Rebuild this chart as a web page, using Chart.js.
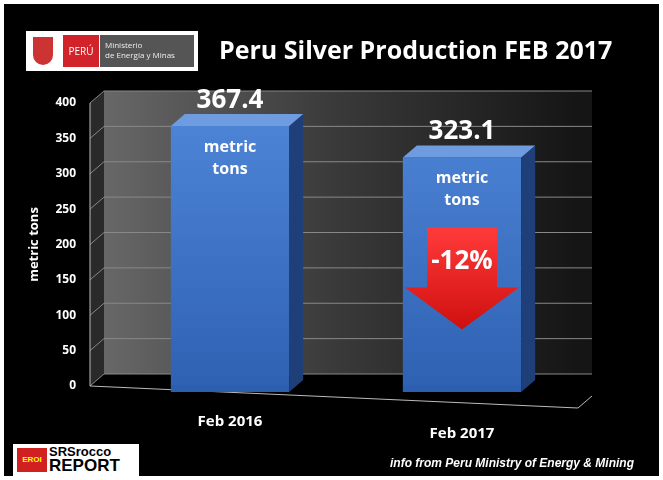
<!DOCTYPE html>
<html>
<head>
<meta charset="utf-8">
<script src="https://cdn.jsdelivr.net/npm/chart.js@4.4.0/dist/chart.umd.min.js"></script>
<style>
  body { margin: 0; background: #fff; }
  #wrap { position: relative; width: 655px; height: 472px; margin: 4px; background: #000; overflow: hidden; }
  canvas { position: absolute; left: 0; top: 0; }
  .title { position: absolute; left: 215px; top: 28px; color: #fff; font: bold 25px "Open Sans", sans-serif; }
  .logo { position: absolute; left: 22px; top: 27px; width: 172px; height: 40px; background: #fff; }
  .logo .shield { position: absolute; left: 7px; top: 6px; width: 20px; height: 28px; background: #c33; border-radius: 0 0 10px 10px; }
  .logo .peru { position: absolute; left: 37px; top: 4px; width: 36px; height: 32px; background: #d2232a; color: #fff; font: 10px "Open Sans", sans-serif; line-height: 32px; text-align: center; }
  .logo .min { position: absolute; left: 74px; top: 4px; width: 94px; height: 32px; background: #555; color: #eee; font: 8px "Open Sans", sans-serif; padding: 5px 0 0 5px; box-sizing: border-box; line-height: 10px; }
  .srs { position: absolute; left: 9px; top: 440px; width: 126px; height: 32px; background: #fff; }
  .srs .icon { position: absolute; left: 4px; top: 4px; width: 30px; height: 24px; background: #d02020; color: #ff0; font: bold 8px sans-serif; line-height: 24px; text-align: center; }
  .srs .t { position: absolute; left: 36px; top: 1px; color: #000; font: bold 13px "Liberation Sans", sans-serif; line-height: 14px; }
  .srs .t b { font-size: 17px; }
  .src { position: absolute; left: 386px; top: 452px; color: #fff; font: italic bold 12px "Liberation Sans", sans-serif; }
</style>
</head>
<body>
<div id="wrap">
  <canvas id="c" width="655" height="472"></canvas>
  <div class="logo"><div class="shield"></div><div class="peru">PERÚ</div><div class="min">Ministerio<br>de Energía y Minas</div></div>
  <div class="title">Peru Silver Production FEB 2017</div>
  <div class="srs"><div class="icon">EROI</div><div class="t">SRSrocco<br><b>REPORT</b></div></div>
  <div class="src">info from Peru Ministry of Energy &amp; Mining</div>
</div>
<script>
const categories = ['Feb 2016', 'Feb 2017'];
const silverTons = [367.4, 323.1];
const yTicks = [0, 50, 100, 150, 200, 250, 300, 350, 400];
const changeLabel = '-12%';

const DX = 14, DY = -12; // depth of the 3D look
const GAP = 24;          // wall starts left of the category area

const scene = {
  id: 'scene',
  beforeDatasetsDraw(chart) {
    const { ctx, chartArea: a, scales: { y } } = chart;
    const L = a.left - GAP;
    ctx.save();
    const g = ctx.createLinearGradient(L, 0, a.right, 0);
    g.addColorStop(0, '#6a6a6a'); g.addColorStop(0.5, '#3a3a3a'); g.addColorStop(1, '#151515');
    ctx.fillStyle = g;
    ctx.fillRect(L + DX, a.top + DY, a.right - L, a.bottom - a.top);
    ctx.fillStyle = '#2a2a2a';
    ctx.beginPath();
    ctx.moveTo(L, a.top); ctx.lineTo(L + DX, a.top + DY);
    ctx.lineTo(L + DX, a.bottom + DY); ctx.lineTo(L, a.bottom); ctx.fill();
    ctx.strokeStyle = '#888'; ctx.lineWidth = 1;
    yTicks.forEach(v => {
      const py = y.getPixelForValue(v);
      ctx.beginPath();
      ctx.moveTo(L, py); ctx.lineTo(L + DX, py + DY); ctx.lineTo(a.right + DX, py + DY);
      ctx.stroke();
    });
    ctx.strokeStyle = '#bbb';
    ctx.beginPath();
    ctx.moveTo(L, a.bottom); ctx.lineTo(a.right, a.bottom + 22);
    ctx.lineTo(a.right + DX, a.bottom + DY + 22); ctx.stroke();
    ctx.beginPath();
    ctx.moveTo(L, a.top); ctx.lineTo(L, a.bottom); ctx.stroke();
    ctx.restore();
  },
  afterDatasetsDraw(chart) {
    const { ctx } = chart;
    const meta = chart.getDatasetMeta(0);
    ctx.save();
    meta.data.forEach((bar, i) => {
      const l = bar.x - bar.width / 2, r = bar.x + bar.width / 2, t = bar.y, b = bar.base + 6;
      ctx.fillStyle = '#1f3f78';
      ctx.beginPath();
      ctx.moveTo(r, t); ctx.lineTo(r + DX, t + DY); ctx.lineTo(r + DX, b + DY); ctx.lineTo(r, b); ctx.fill();
      ctx.fillStyle = '#2d5fb0';
      ctx.fillRect(l, bar.base - 1, r - l, 7);
      ctx.fillStyle = '#6f9be0';
      ctx.beginPath();
      ctx.moveTo(l, t); ctx.lineTo(l + DX, t + DY); ctx.lineTo(r + DX, t + DY); ctx.lineTo(r, t); ctx.fill();
      ctx.fillStyle = '#fff'; ctx.textAlign = 'center';
      ctx.font = 'bold 26px "Open Sans", sans-serif';
      ctx.fillText(silverTons[i].toFixed(1), bar.x, t - 6 + DY);
      ctx.font = 'bold 16px "Open Sans", sans-serif';
      ctx.fillText('metric', bar.x, t + 26);
      ctx.fillText('tons', bar.x, t + 48);
      ctx.font = 'bold 15px "Open Sans", sans-serif';
      ctx.fillText(categories[i], bar.x, chart.chartArea.bottom + 40 + i * 12);
    });
    const b2 = meta.data[1];
    const cx = b2.x, top = b2.y + 70;
    const ag = ctx.createLinearGradient(0, top, 0, top + 100);
    ag.addColorStop(0, '#ff3a3a'); ag.addColorStop(1, '#d01010');
    ctx.fillStyle = ag;
    ctx.beginPath();
    ctx.moveTo(cx - 35, top); ctx.lineTo(cx + 35, top); ctx.lineTo(cx + 35, top + 60);
    ctx.lineTo(cx + 57, top + 60); ctx.lineTo(cx, top + 102); ctx.lineTo(cx - 57, top + 60);
    ctx.lineTo(cx - 35, top + 60); ctx.closePath(); ctx.fill();
    ctx.fillStyle = '#fff';
    ctx.font = 'bold 26px "Open Sans", sans-serif';
    ctx.fillText(changeLabel, cx, top + 42);
    ctx.restore();
  }
};

new Chart(document.getElementById('c'), {
  type: 'bar',
  data: {
    labels: categories,
    datasets: [{
      data: silverTons,
      backgroundColor: ctx => {
        const c = ctx.chart.ctx;
        const g = c.createLinearGradient(0, 100, 0, 400);
        g.addColorStop(0, '#4f86d8'); g.addColorStop(1, '#2d5fb0');
        return g;
      },
      categoryPercentage: 0.51,
      barPercentage: 1
    }]
  },
  options: {
    responsive: false,
    animation: false,
    layout: { padding: { top: 99, bottom: 82, right: 81, left: 18 } },
    plugins: { legend: { display: false }, tooltip: { enabled: false } },
    scales: {
      x: { ticks: { display: false }, grid: { display: false }, border: { display: false } },
      y: {
        min: 0, max: 400,
        afterFit: s => { s.width = 92; },
        ticks: { stepSize: 50, padding: 30, color: '#fff', font: { weight: 'bold', size: 12, family: 'Open Sans' } },
        grid: { display: false }, border: { display: false },
        title: { display: true, text: 'metric tons', color: '#fff', font: { weight: 'bold', size: 13, family: 'Open Sans' } }
      }
    }
  },
  plugins: [scene]
});
</script>
</body>
</html>
